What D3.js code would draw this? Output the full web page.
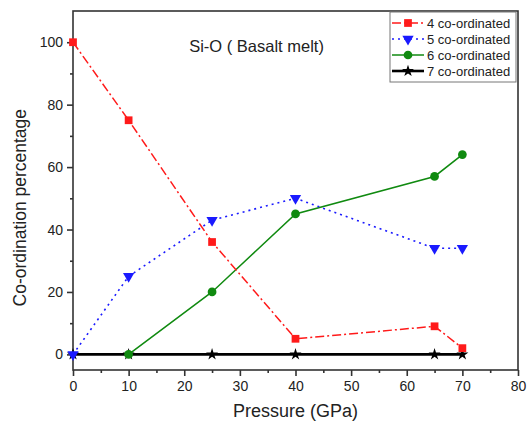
<!DOCTYPE html>
<meta charset="utf-8">
<title>Si-O coordination</title>
<style>
  body { margin: 0; background: #fff; }
  text { font-family: Arial, "Liberation Sans", sans-serif; fill: #222; }
  .axis path, .axis line { stroke: #333; stroke-width: 1.6px; }
  .axis text { font-size: 14px; }
</style>
<svg width="529" height="425"></svg>
<script src="https://d3js.org/d3.v7.min.js"></script>
<script>
var pressure = [0, 10, 25, 40, 65, 70];
var coord4 = [100, 75, 36, 5, 9, 2];
var coord5 = [0, 25, 43, 50, 34, 34];
var coord6 = [0, 0, 20, 45, 57, 64];
var coord7 = [0, 0, 0, 0, 0, 0];
var xTicks = [0, 10, 20, 30, 40, 50, 60, 70, 80];
var yTicks = [0, 20, 40, 60, 80, 100];

var series = [
  { name: "4 co-ordinated", values: coord4, color: "#ff1a1a", dash: "9,3,2,3", width: 1.5, marker: "square" },
  { name: "5 co-ordinated", values: coord5, color: "#1a1aff", dash: "2,4", width: 1.6, marker: "tri" },
  { name: "6 co-ordinated", values: coord6, color: "#108a10", dash: null, width: 1.5, marker: "circle" },
  { name: "7 co-ordinated", values: coord7, color: "#000", dash: null, width: 2.6, marker: "star" }
];

var svg = d3.select("svg"),
  margin = { left: 73, right: 11, top: 11, bottom: 55 },
  width = 529 - margin.left - margin.right,
  height = 425 - margin.top - margin.bottom;

var x = d3.scaleLinear().domain([0, 80]).range([0, width]);
var y = d3.scaleLinear().domain([-5, 110]).range([height, 0]);

var g = svg.append("g").attr("transform", "translate(" + margin.left + "," + margin.top + ")");

// frame
g.append("rect").attr("width", width).attr("height", height)
  .attr("fill", "none").attr("stroke", "#333").attr("stroke-width", 1.6);

g.append("g").attr("class", "axis").attr("transform", "translate(0," + height + ")")
  .call(d3.axisBottom(x).tickValues(xTicks).tickSize(6).tickSizeOuter(0).tickPadding(5));
g.append("g").attr("class", "axis").attr("transform", "translate(0," + height + ")")
  .call(d3.axisBottom(x).tickValues(d3.range(5, 80, 10)).tickSize(3).tickFormat("").tickSizeOuter(0));
g.append("g").attr("class", "axis")
  .call(d3.axisLeft(y).tickValues(yTicks).tickSize(6).tickSizeOuter(0).tickPadding(4));
g.append("g").attr("class", "axis")
  .call(d3.axisLeft(y).tickValues(d3.range(10, 110, 20)).tickSize(3).tickFormat("").tickSizeOuter(0));
g.selectAll(".axis .domain").remove();

var symbols = {
  square: d3.symbol().type(d3.symbolSquare).size(60),
  tri: d3.symbol().type(d3.symbolTriangle).size(55),
  circle: d3.symbol().type(d3.symbolCircle).size(60),
  star: d3.symbol().type(d3.symbolStar).size(45)
};

// draw in reverse so black baseline is on top like reference
series.slice().reverse().forEach(function (s) {
  var pts = pressure.map(function (p, i) { return [p, s.values[i]]; });
  if (s.marker === "circle") pts = pts.slice(1);
  var line = d3.line().x(function (d) { return x(d[0]); }).y(function (d) { return y(d[1]); });
  g.append("path").datum(pts)
    .attr("fill", "none").attr("stroke", s.color).attr("stroke-width", s.width)
    .attr("stroke-dasharray", s.dash).attr("d", line);
  g.selectAll(null).data(pts).enter().append("path")
    .attr("d", symbols[s.marker])
    .attr("transform", function (d) {
      return "translate(" + x(d[0]) + "," + y(d[1]) + ")" + (s.marker === "tri" ? " rotate(180)" : "");
    })
    .attr("fill", s.color);
});

// title
g.append("text").attr("x", x(33)).attr("y", 41).attr("text-anchor", "middle")
  .style("font-size", "16.5px").text("Si-O ( Basalt melt)");

// axis labels
svg.append("text").attr("x", margin.left + width / 2).attr("y", 417).attr("text-anchor", "middle")
  .style("font-size", "18px").text("Pressure (GPa)");
svg.append("text").attr("transform", "translate(26," + (margin.top + y(47)) + ") rotate(-90)")
  .attr("text-anchor", "middle").style("font-size", "17.5px").text("Co-ordination percentage");

// legend
var lg = svg.append("g").attr("transform", "translate(390,12)");
lg.append("rect").attr("width", 126).attr("height", 70)
  .attr("fill", "#fff").attr("stroke", "#777").attr("stroke-width", 1);
series.forEach(function (s, i) {
  var row = lg.append("g").attr("transform", "translate(0," + (11 + i * 16) + ")");
  row.append("line").attr("x1", 2).attr("x2", 34).attr("stroke", s.color)
    .attr("stroke-width", s.width).attr("stroke-dasharray", s.dash);
  row.append("path").attr("d", symbols[s.marker])
    .attr("transform", "translate(18,0)" + (s.marker === "tri" ? " rotate(180)" : ""))
    .attr("fill", s.color);
  row.append("text").attr("x", 37).attr("y", 4.5).style("font-size", "13px").text(s.name);
});
</script>
